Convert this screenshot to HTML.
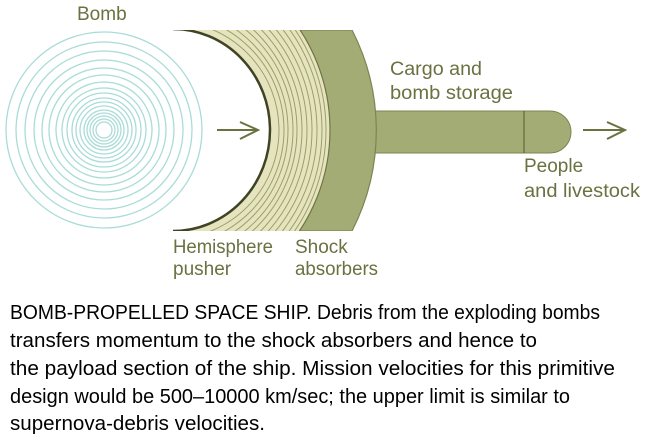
<!DOCTYPE html>
<html><head><meta charset="utf-8"><style>
html,body{margin:0;padding:0;background:#fff;}
svg{display:block;}
.lab{font-family:"Liberation Sans Narrow","Liberation Sans",sans-serif;fill:#6b7140;font-size:19px;}
.cap{font-family:"Liberation Sans Narrow","Liberation Sans",sans-serif;fill:#000;font-size:20px;}
</style></head><body>
<svg width="646" height="441" viewBox="0 0 646 441" xmlns="http://www.w3.org/2000/svg">
<defs>
<clipPath id="band"><rect x="173" y="30" width="220" height="201"/></clipPath>
</defs>
<!-- shaft -->
<path d="M370 111 H550 A21 21 0 0 1 550 153 H370 Z" fill="#a3ac74" stroke="#7d8452" stroke-width="1"/>
<line x1="524" y1="111" x2="524" y2="153" stroke="#55592f" stroke-width="1"/>
<!-- shock absorber body -->
<g clip-path="url(#band)">
<path d="M173 30 H352 A220 220 0 0 1 352 231 H173 Z" fill="#a3ac74" stroke="#7d8452" stroke-width="1.2"/>
<circle cx="148" cy="130" r="182" fill="#e6e4be"/>
<g fill="none" stroke="#9a9f6a" stroke-width="1">
<circle cx="148" cy="130" r="178"/><circle cx="150" cy="130" r="172"/><circle cx="152" cy="130" r="165"/>
<circle cx="154" cy="130" r="158"/><circle cx="156" cy="130" r="151"/><circle cx="158" cy="130" r="144"/>
<circle cx="160" cy="130" r="137"/><circle cx="163" cy="130" r="130"/><circle cx="165" cy="130" r="123"/>
<circle cx="168" cy="130" r="116"/><circle cx="170" cy="130" r="109"/>
</g>
<circle cx="148" cy="130" r="182" fill="none" stroke="#6f7645" stroke-width="1.2"/>
<ellipse cx="173" cy="130" rx="97" ry="101" fill="#fff" stroke="#3f4424" stroke-width="2.5"/>
</g>
<!-- bomb rings -->
<g fill="none" stroke="#a9dcd8" stroke-width="1.3">
<circle cx="104" cy="130" r="8"/><circle cx="104" cy="130" r="11"/><circle cx="104" cy="130" r="14"/>
<circle cx="104" cy="130" r="17"/><circle cx="104" cy="130" r="20"/><circle cx="104" cy="130" r="24"/>
<circle cx="104" cy="130" r="28"/><circle cx="104" cy="130" r="32"/><circle cx="104" cy="130" r="37"/>
<circle cx="104" cy="130" r="42"/><circle cx="104" cy="130" r="48"/><circle cx="104" cy="130" r="55"/>
<circle cx="104" cy="130" r="62"/><circle cx="104" cy="130" r="70"/><circle cx="104" cy="130" r="79"/>
<circle cx="104" cy="130" r="88"/><circle cx="104" cy="130" r="98"/>
</g>
<!-- arrows -->
<g stroke="#6b7140" stroke-width="2" fill="none">
<line x1="217" y1="130" x2="258" y2="130"/><polyline points="240,122 258,130 240,139"/>
<line x1="583" y1="130" x2="625" y2="130"/><polyline points="607,122 625,130 607,139"/>
</g>
<!-- labels -->
<text class="lab" x="77" y="20">Bomb</text>
<text class="lab" x="173" y="253" textLength="100" lengthAdjust="spacingAndGlyphs">Hemisphere</text>
<text class="lab" x="173" y="275">pusher</text>
<text class="lab" x="295" y="253">Shock</text>
<text class="lab" x="295" y="275" textLength="83" lengthAdjust="spacingAndGlyphs">absorbers</text>
<text class="lab" x="390" y="75" textLength="92" lengthAdjust="spacingAndGlyphs">Cargo and</text>
<text class="lab" x="390" y="99" textLength="123" lengthAdjust="spacingAndGlyphs">bomb storage</text>
<text class="lab" x="524" y="172">People</text>
<text class="lab" x="524" y="197" textLength="116" lengthAdjust="spacingAndGlyphs">and livestock</text>
<!-- caption -->
<text class="cap" x="10" y="319" textLength="590" lengthAdjust="spacingAndGlyphs">BOMB-PROPELLED SPACE SHIP.  Debris from the exploding bombs</text>
<text class="cap" x="10" y="347" textLength="527" lengthAdjust="spacingAndGlyphs">transfers momentum to the shock absorbers and hence to</text>
<text class="cap" x="10" y="375" textLength="605" lengthAdjust="spacingAndGlyphs">the payload section of the ship.  Mission velocities for this primitive</text>
<text class="cap" x="10" y="403" textLength="560" lengthAdjust="spacingAndGlyphs">design would be 500–10000 km/sec; the upper limit is similar to</text>
<text class="cap" x="10" y="430" textLength="255" lengthAdjust="spacingAndGlyphs">supernova-debris velocities.</text>
</svg>
</body></html>
